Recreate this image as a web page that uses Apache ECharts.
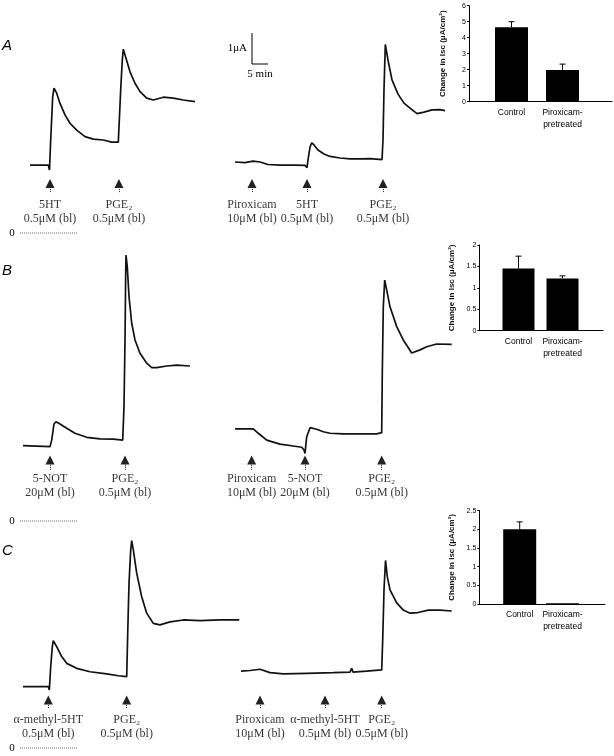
<!DOCTYPE html>
<html>
<head>
<meta charset="utf-8">
<script src="https://cdn.jsdelivr.net/npm/echarts@6/dist/echarts.min.js"></script>
<style>
html, body { margin: 0; padding: 0; background: #fff; }
#chart { width: 614px; height: 756px; }
</style>
</head>
<body>
<div id="chart"></div>
<script>
// Isc traces, points are [time (min), Isc (μA)]
const traceA1 = [[0,2.19],[5.72,2.19],[6.09,2.03],[6.47,3.0],[7.09,4.40],[7.5,4.67],[8.34,4.51],[9.38,4.18],[10.94,3.81],[12.5,3.54],[14.59,3.32],[17.19,3.11],[19.78,3.03],[22.91,3.0],[25.53,2.93],[27.59,2.93],[28.34,4.61],[28.84,5.58],[29.16,5.93],[30.0,5.64],[31.25,5.2],[32.81,4.83],[34.38,4.56],[36.47,4.35],[38.53,4.29],[41.66,4.38],[44.78,4.35],[47.9,4.29],[51.56,4.24]];
const traceA2 = [[0,2.29],[3.13,2.27],[5.63,2.32],[7.81,2.29],[10.31,2.21],[14.06,2.19],[18.75,2.19],[21.88,2.18],[22.5,2.11],[22.81,2.35],[23.44,2.77],[23.97,2.91],[24.69,2.84],[25.94,2.68],[27.81,2.55],[29.69,2.47],[32.81,2.42],[35.94,2.39],[39.06,2.39],[42.19,2.40],[45.94,2.37],[46.25,3.0],[46.56,4.61],[46.97,6.08],[47.81,5.58],[49.06,4.94],[50.94,4.48],[52.81,4.19],[54.69,4.03],[56.88,3.85],[59.06,3.90],[61.56,3.97],[64.06,3.98],[65.63,3.95]];
const traceB1 = [[0,2.43],[8.44,2.40],[8.97,2.61],[9.69,3.13],[10.31,3.20],[11.56,3.13],[13.66,2.99],[16.25,2.83],[19.91,2.70],[24.06,2.65],[28.22,2.64],[31.16,2.61],[31.56,3.69],[31.88,5.84],[32.09,7.99],[32.19,8.58],[32.59,8.20],[33.13,7.24],[33.97,6.38],[35.0,5.84],[36.56,5.41],[38.66,5.09],[40.22,4.95],[41.78,4.95],[44.91,5.0],[48.03,5.03],[52.19,5.0]];
const traceB2 = [[0,2.97],[5.72,2.97],[7.28,2.83],[9.91,2.61],[14.06,2.48],[18.22,2.42],[20.84,2.38],[21.56,2.29],[21.88,2.18],[22.41,2.72],[23.44,3.01],[25.53,2.96],[27.59,2.88],[29.69,2.83],[33.84,2.81],[39.06,2.81],[44.28,2.81],[45.84,2.85],[46.03,4.76],[46.34,6.91],[46.78,7.77],[47.41,7.45],[48.44,6.91],[50.53,6.27],[52.59,5.84],[55.22,5.42],[57.81,5.52],[59.91,5.62],[63.03,5.71],[67.72,5.70]];
const traceC1 = [[0,1.98],[7.91,1.98],[8.22,1.87],[8.66,2.62],[9.16,3.27],[9.47,3.46],[10.53,3.27],[12.09,2.95],[13.66,2.73],[16.78,2.57],[20.94,2.46],[26.16,2.39],[29.78,2.33],[32.41,2.30],[32.72,3.70],[33.13,5.31],[33.66,6.39],[33.97,6.69],[34.47,6.39],[35.53,5.64],[37.09,4.88],[38.66,4.35],[40.72,4.02],[42.81,3.97],[45.94,4.07],[50.09,4.13],[55.31,4.11],[61.56,4.13],[67.59,4.13]];
const traceC2 = [[0,2.48],[2.81,2.50],[5.94,2.54],[9.06,2.43],[13.22,2.39],[20.53,2.41],[28.84,2.43],[34.06,2.45],[34.59,2.57],[35.0,2.45],[39.28,2.48],[43.97,2.52],[44.28,3.48],[44.69,5.10],[45.16,6.05],[45.72,5.53],[46.56,5.10],[48.66,4.68],[50.72,4.45],[52.81,4.35],[55.31,4.37],[58.53,4.45],[62.19,4.45],[65.84,4.42]];

// drug additions: [time (min), label]
const eventsA1 = [[6.25,'5HT\n0.5μM (bl)'],[27.8,'PGE₂\n0.5μM (bl)']];
const eventsA2 = [[5.31,'Piroxicam\n10μM (bl)'],[22.5,'5HT\n0.5μM (bl)'],[46.25,'PGE₂\n0.5μM (bl)']];
const eventsB1 = [[8.44,'5-NOT\n20μM (bl)'],[31.88,'PGE₂\n0.5μM (bl)']];
const eventsB2 = [[5.2,'Piroxicam\n10μM (bl)'],[21.88,'5-NOT\n20μM (bl)'],[45.84,'PGE₂\n0.5μM (bl)']];
const eventsC1 = [[7.91,'α-methyl-5HT\n0.5μM (bl)'],[32.41,'PGE₂\n0.5μM (bl)']];
const eventsC2 = [[5.94,'Piroxicam\n10μM (bl)'],[26.25,'α-methyl-5HT\n0.5μM (bl)'],[43.97,'PGE₂\n0.5μM (bl)']];

// summary bars, change in Isc (μA/cm²)
const barCategories = ['Control', 'Piroxicam-\npretreated'];
const barMeanA = [4.65, 1.98];
const barSemA = [0.35, 0.37];
const barMeanB = [1.45, 1.22];
const barSemB = [0.29, 0.06];
const barMeanC = [2.0, 0.02];
const barSemC = [0.2, 0];

const PX_PER_UA = 31;     // 1 μA scale bar
const PX_PER_MIN = 3.2;   // 5 min scale bar = 16 px
const T_MAX = 70;
const SERIF = 'Liberation Serif';
const SANS = 'Liberation Sans';

const rows = [
  { zeroY: 233, iMax: 7, tip: 1.6, tail: 1.32, labelTop: 1.13 },
  { zeroY: 521, iMax: 9, tip: 1.97, tail: 1.65, labelTop: 1.58 },
  { zeroY: 748, iMax: 8, tip: 1.55, tail: 1.29, labelTop: 1.13 }
];
const traces = [
  { row: 0, x0: 30, data: traceA1, events: eventsA1 },
  { row: 0, x0: 235, data: traceA2, events: eventsA2 },
  { row: 1, x0: 23, data: traceB1, events: eventsB1 },
  { row: 1, x0: 235, data: traceB2, events: eventsB2 },
  { row: 2, x0: 23, data: traceC1, events: eventsC1 },
  { row: 2, x0: 241, data: traceC2, events: eventsC2 }
];
const bars = [
  { left: 469, top: 5.7, right: 612, bottom: 101.7, ctrl: 511.5, pir: 562.5, max: 6, interval: 1, mean: barMeanA, sem: barSemA, width: 33, nameGap: 22 },
  { left: 479.3, top: 245, right: 603, bottom: 330.7, ctrl: 518.5, pir: 562.5, max: 2, interval: 0.5, mean: barMeanB, sem: barSemB, width: 32, nameGap: 24 },
  { left: 479.3, top: 510.7, right: 605, bottom: 604, ctrl: 519.7, pir: 562.5, max: 2.5, interval: 0.5, mean: barMeanC, sem: barSemC, width: 33, nameGap: 24 }
];

const grid = [], xAxis = [], yAxis = [], series = [];

traces.forEach((tr, i) => {
  const r = rows[tr.row];
  grid.push({ left: tr.x0, top: r.zeroY - r.iMax * PX_PER_UA, width: T_MAX * PX_PER_MIN, height: r.iMax * PX_PER_UA });
  xAxis.push({ gridIndex: i, type: 'value', min: 0, max: T_MAX, show: false });
  yAxis.push({ gridIndex: i, type: 'value', min: 0, max: r.iMax, show: false });
  series.push({
    type: 'line', xAxisIndex: i, yAxisIndex: i, data: tr.data,
    showSymbol: false, smooth: false, animation: false,
    lineStyle: { color: '#111', width: 1.7 },
    markLine: {
      silent: true, animation: false,
      symbol: ['none', 'triangle'], symbolSize: [9, 9],
      label: { show: false },
      lineStyle: { type: 'dotted', color: '#222', width: 1 },
      itemStyle: { color: '#000' },
      data: tr.events.map(e => [{ coord: [e[0], r.tail] }, { coord: [e[0], r.tip] }])
    }
  });
  series.push({
    type: 'scatter', xAxisIndex: i, yAxisIndex: i, symbolSize: 0, animation: false, silent: true,
    data: tr.events.map(e => [e[0], r.labelTop, e[1]]),
    label: {
      show: true, position: 'bottom', distance: 0,
      formatter: p => p.data[2],
      fontFamily: SERIF, fontSize: 12, lineHeight: 14, color: '#000', align: 'center'
    }
  });
});

bars.forEach((b, k) => {
  const gi = traces.length + k;
  const step = b.pir - b.ctrl;
  grid.push({ left: b.left, top: b.top, width: b.right - b.left, height: b.bottom - b.top });
  xAxis.push({
    gridIndex: gi, type: 'value',
    min: 1 - (b.ctrl - b.left) / step, max: 2 + (b.right - b.pir) / step,
    axisLine: { lineStyle: { color: '#000', width: 1 } },
    axisTick: { show: false }, axisLabel: { show: false }, splitLine: { show: false }
  });
  yAxis.push({
    gridIndex: gi, type: 'value', min: 0, max: b.max, interval: b.interval,
    name: 'Change in Isc (μA/cm²)', nameLocation: 'middle', nameGap: b.nameGap, nameRotate: 90,
    nameTextStyle: { fontFamily: SANS, fontSize: 8, fontWeight: 'bold', color: '#111' },
    axisLine: { show: true, lineStyle: { color: '#000', width: 1 } },
    axisTick: { show: true, length: 2, lineStyle: { color: '#000' } },
    axisLabel: { fontFamily: SANS, fontSize: 7, margin: 3, color: '#000' },
    splitLine: { show: false }
  });
  series.push({
    type: 'bar', xAxisIndex: gi, yAxisIndex: gi, barWidth: b.width, animation: false,
    data: b.mean.map((v, i) => [i + 1, v]),
    itemStyle: { color: '#000' },
    label: {
      show: true, position: 'bottom', distance: 5,
      formatter: p => barCategories[p.dataIndex],
      fontFamily: SANS, fontSize: 8.5, lineHeight: 12, color: '#000'
    }
  });
  series.push({
    type: 'custom', xAxisIndex: gi, yAxisIndex: gi, animation: false, silent: true,
    data: b.mean.map((v, i) => [i + 1, v, v + b.sem[i]]),
    renderItem: (params, api) => {
      const lo = api.coord([api.value(0), api.value(1)]);
      const hi = api.coord([api.value(0), api.value(2)]);
      if (hi[1] >= lo[1] - 0.5) return null;
      const st = { stroke: '#000', lineWidth: 1 };
      return {
        type: 'group', children: [
          { type: 'line', shape: { x1: lo[0], y1: lo[1], x2: hi[0], y2: hi[1] }, style: st },
          { type: 'line', shape: { x1: hi[0] - 3, y1: hi[1], x2: hi[0] + 3, y2: hi[1] }, style: st }
        ]
      };
    }
  });
});

// panel letters, zero markers, scale bar
const graphic = [];
[['A', 47], ['B', 272], ['C', 552]].forEach(([t, y]) => {
  graphic.push({ type: 'text', left: 2, top: y - 9, style: { text: t, font: 'italic 15px ' + SANS, fill: '#000' } });
});
rows.forEach(r => {
  graphic.push({ type: 'text', x: 12, y: r.zeroY, style: { text: '0', font: '11px ' + SERIF, fill: '#000', textAlign: 'center', textVerticalAlign: 'middle' } });
  graphic.push({ type: 'line', shape: { x1: 20, y1: r.zeroY, x2: 77, y2: r.zeroY }, style: { stroke: '#666', lineWidth: 1, lineDash: [1, 1] } });
});
const sbX = 252, sbY = 64;
graphic.push({ type: 'line', shape: { x1: sbX, y1: sbY - PX_PER_UA, x2: sbX, y2: sbY }, style: { stroke: '#000', lineWidth: 1 } });
graphic.push({ type: 'line', shape: { x1: sbX, y1: sbY, x2: sbX + 5 * PX_PER_MIN, y2: sbY }, style: { stroke: '#000', lineWidth: 1 } });
graphic.push({ type: 'text', x: sbX - 5, y: 48, style: { text: '1μA', font: '11px ' + SERIF, fill: '#000', textAlign: 'right', textVerticalAlign: 'middle' } });
graphic.push({ type: 'text', x: sbX + 8, y: 74, style: { text: '5 min', font: '11px ' + SERIF, fill: '#000', textAlign: 'center', textVerticalAlign: 'middle' } });

const chart = echarts.init(document.getElementById('chart'));
chart.setOption({
  backgroundColor: '#fff',
  animation: false,
  grid, xAxis, yAxis, series, graphic
});
</script>
</body>
</html>
